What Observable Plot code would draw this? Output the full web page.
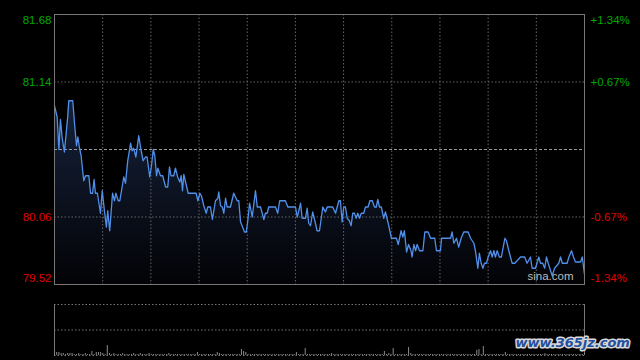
<!DOCTYPE html>
<html><head><meta charset="utf-8">
<script src="https://cdn.jsdelivr.net/npm/d3@7"></script>
<script src="https://cdn.jsdelivr.net/npm/@observablehq/plot@0.6"></script>
<style>
html,body{margin:0;padding:0;background:#000;}
#chart{position:relative;width:640px;height:360px;background:#000;overflow:hidden;font-family:"Liberation Sans",Arial,sans-serif;}
#chart svg{position:absolute;left:0;}
</style></head><body><div id="chart"></div>
<script>
// minute index since open (0..241) of each turning point
const minutes = [0,1.2,2,2.7,3.5,4.5,6,6.5,8.3,9.1,
10,10.6,11.4,12.1,13.3,14.1,15.6,16.4,17.3,18,
18.6,19.5,20.9,21.7,22.7,23.6,24.2,25.1,26.4,27.3,
27.9,29,29.7,31.5,32.3,33.3,34.6,35.3,36,37,
38.3,39.4,40.3,41.4,42.1,43.3,44.1,44.9,45.6,46.4,
47,48.2,49.2,50.5,51.5,52.3,53,54.2,55,56,
57,57.6,58.2,58.8,59.6,60.8,64.4,65.2,66.1,66.8,
67.9,69,69.7,70.9,71.8,73.2,74.3,74.7,75.5,76.3,
77,77.8,78.5,80,81.5,83.1,83.8,84.6,85.3,86.4,
87.2,87.9,88.7,89.9,91.4,92.2,93.7,95.2,95.9,96.7,
97.4,100.5,101.5,102.4,105,106.1,109.6,110.4,111.1,111.9,
112.6,114.1,114.9,115.6,116.4,117.4,118.4,119.4,120.5,122,
123.2,124,126.5,127.8,129.3,130,130.8,131.5,132.3,133.1,
134.1,134.9,135.6,136.4,137.2,137.9,138.7,139.5,140.6,141.4,
142.6,143.4,144.5,145.5,146.3,147,147.8,148.6,149.7,150.5,
152,153.2,155.5,156.3,157.6,158.4,159.1,160.1,161,162.1,
162.6,163.4,164.2,164.9,166,167.5,168.4,169.9,171,172.9,
173.7,175.5,176,180.1,180.8,181.6,182.8,183.8,184.9,186.1,
188.1,189.2,190.7,191.4,192.5,193.2,194,194.8,195.5,196.4,
197.2,198.3,199,199.8,200.5,201.3,202.3,203.2,204.8,205.5,
206.6,208.1,209.3,211.9,213.8,214.9,216.4,217.2,218.7,220.2,
221,222,222.9,223.7,224.5,226.3,227.4,229.3,230.1,230.9,
233.1,233.9,235.1,236,236.9,239.2,240,241];

const prices = [80.95,80.86,80.60,80.84,80.69,80.58,80.86,80.99,80.99,80.81,
80.63,80.70,80.61,80.55,80.35,80.39,80.39,80.25,80.25,80.36,
80.25,80.25,80.09,80.27,80.11,79.98,80.11,79.95,80.25,80.19,
80.25,80.19,80.19,80.38,80.33,80.51,80.65,80.59,80.61,80.54,
80.71,80.59,80.51,80.54,80.54,80.38,80.47,80.60,80.55,80.39,
80.45,80.39,80.39,80.30,80.30,80.46,80.39,80.39,80.45,80.38,
80.34,80.39,80.27,80.40,80.34,80.25,80.25,80.19,80.25,80.23,
80.15,80.09,80.14,80.14,80.04,80.19,80.21,80.26,80.15,80.14,
80.09,80.21,80.14,80.14,80.25,80.19,80.19,80.02,79.99,79.94,
79.94,80.03,80.17,80.06,80.27,80.14,80.14,80.04,80.09,80.09,
80.14,80.14,80.09,80.19,80.19,80.14,80.14,80.06,80.11,80.17,
80.05,80.05,80.13,80.01,79.99,80.10,80.03,79.95,79.95,80.14,
80.10,80.14,80.14,80.09,80.19,80.19,80.02,80.14,80.14,80.05,
80.03,79.99,80.09,80.09,80.05,80.09,80.05,80.09,80.09,80.14,
80.14,80.19,80.19,80.14,80.14,80.20,80.14,80.14,80.05,80.10,
79.99,79.89,79.89,79.84,79.95,79.90,79.95,79.78,79.84,79.79,
79.74,79.84,79.79,79.84,79.79,79.79,79.94,79.94,79.89,79.89,
79.79,79.79,79.89,79.89,79.94,79.85,79.89,79.82,79.89,79.94,
79.94,79.89,79.85,79.79,79.65,79.77,79.69,79.65,79.69,79.69,
79.74,79.79,79.74,79.79,79.74,79.79,79.74,79.74,79.89,79.87,
79.79,79.69,79.69,79.74,79.74,79.69,79.74,79.65,79.65,79.74,
79.69,79.69,79.65,79.74,79.69,79.59,79.65,79.69,79.74,79.69,
79.69,79.74,79.79,79.74,79.70,79.70,79.74,79.60];

// per-minute volume (relative units)
const volumes = [4,3,3,2,2,1,2,2,2,1,
1,2,1,1,2,1,1,4,1,3,
3,3,2,1,10,2,1,2,1,1,
1,2,1,1,1,1,2,1,1,2,
1,1,1,2,1,1,1,1,1,1,
1,1,2,1,1,1,1,1,1,1,
1,1,1,1,1,3,1,1,1,1,
1,1,1,1,3,2,1,1,1,1,
1,1,1,1,1,6,4,3,1,1,
1,1,1,1,1,1,1,1,1,1,
1,1,1,1,1,1,1,1,1,1,
3,1,1,1,7,1,1,1,1,1,
1,1,1,1,1,1,2,1,1,1,
1,1,1,1,1,1,1,1,1,1,
1,1,1,1,1,1,1,1,1,1,
4,1,2,1,7,1,1,1,1,1,
1,8,2,1,1,1,1,1,1,1,
1,1,1,1,1,1,1,1,1,1,
1,1,1,1,1,1,1,1,1,1,
1,1,5,6,1,9,1,1,1,1,
1,1,1,1,1,3,1,1,1,1,
1,1,1,1,1,1,1,1,1,1,
1,1,1,2,1,1,1,1,1,1,
1,1,1,1,1,1,1,1,1,1,1,2];

const prevClose = 80.60;
const priceTicks = [81.68, 81.14, 80.06, 79.52];
const priceTickLabels = ["81.68", "81.14", "80.06", "79.52"];
const pctTickLabels = ["+1.34%", "+0.67%", "-0.67%", "-1.34%"];
const sessionLength = 241;
const columns = 11;

const n = Math.min(minutes.length, prices.length);
const series = d3.range(n).map(i => ({m: minutes[i], p: prices[i]}));
const vol = volumes.map((v, i) => ({m: i, v}));
const ticks = priceTicks.map((v, i) => ({v, left: priceTickLabels[i], right: pctTickLabels[i], up: v > prevClose, pos: i}));
const vgrid = d3.range(1, columns).map(k => k * sessionLength / columns);

const GREEN = "#00a800", RED = "#e00000", GRID = "#666";
const ymin = d3.min(priceTicks), ymax = d3.max(priceTicks);

const defs = () => {
  const ns = "http://www.w3.org/2000/svg";
  const d = document.createElementNS(ns, "defs");
  d.innerHTML = '<linearGradient id="fillgrad" x1="0" y1="0" x2="0" y2="1">' +
    '<stop offset="0" stop-color="#15213a"/><stop offset="1" stop-color="#030306"/></linearGradient>';
  return d;
};

const labelMarks = [];
const offs = [6, 0, 0, -6];
ticks.forEach((t, i) => {
  labelMarks.push(Plot.text([t], {y: "v", text: "left", frameAnchor: "left", textAnchor: "end", dx: -3, dy: offs[i], fill: t.up ? GREEN : RED, fontSize: 11.5}));
  labelMarks.push(Plot.text([t], {y: "v", text: "right", frameAnchor: "right", textAnchor: "start", dx: 6, dy: offs[i], fill: t.up ? GREEN : RED, fontSize: 11.5}));
});

const main = Plot.plot({
  width: 640, height: 290,
  marginLeft: 54, marginRight: 56, marginTop: 14, marginBottom: 6,
  style: {background: "transparent", color: "#fff", fontFamily: "Liberation Sans, Arial, sans-serif"},
  x: {domain: [0, sessionLength], axis: null},
  y: {domain: [ymin, ymax], axis: null},
  marks: [
    defs,
    Plot.areaY(series, {x: "m", y1: ymin, y2: "p", fill: "url(#fillgrad)"}),
    Plot.ruleY(priceTicks.filter(v => v !== ymin && v !== ymax), {stroke: GRID, strokeDasharray: "1.5,2"}),
    Plot.ruleX(vgrid, {stroke: GRID, strokeDasharray: "1.5,2"}),
    Plot.ruleY([prevClose], {stroke: "#9a9a9a", strokeDasharray: "3,2"}),
    Plot.lineY(series, {x: "m", y: "p", stroke: "#5090ea", strokeWidth: 1.3}),
    Plot.frame({stroke: "#777"}),
    ...labelMarks,
    Plot.text(["sina.com"], {frameAnchor: "bottom-right", textAnchor: "end", dx: -11, dy: -5, fill: "#bbb", fontSize: 11.5})
  ]
});
main.style.top = "0px";

const vmax = 51;
const volPlot = Plot.plot({
  width: 640, height: 70,
  marginLeft: 54, marginRight: 56, marginTop: 14, marginBottom: 5,
  style: {background: "transparent", color: "#fff", fontFamily: "Liberation Sans, Arial, sans-serif", overflow: "visible"},
  x: {domain: [0, sessionLength], axis: null},
  y: {domain: [0, vmax], axis: null},
  marks: [
    Plot.ruleY([0, vmax / 2, vmax], {stroke: "#777", strokeDasharray: "1.5,2"}),
    Plot.ruleX([0, sessionLength], {stroke: "#777"}),
    Plot.ruleX(vol, {x: "m", y1: 0, y2: "v", stroke: "#8a8a8a", strokeWidth: 1}),
    Plot.text(["www.365jz.com"], {frameAnchor: "bottom-right", textAnchor: "start", dx: -69, dy: -9, fill: "#22509e", stroke: "#d8d8d8", strokeWidth: 3, paintOrder: "stroke", fontSize: 13, fontWeight: "bold", fontStyle: "italic", fontFamily: "DejaVu Sans"})
  ]
});
volPlot.style.top = "290px";

const root = document.getElementById("chart");
root.appendChild(main);
root.appendChild(volPlot);
</script>
</body></html>
